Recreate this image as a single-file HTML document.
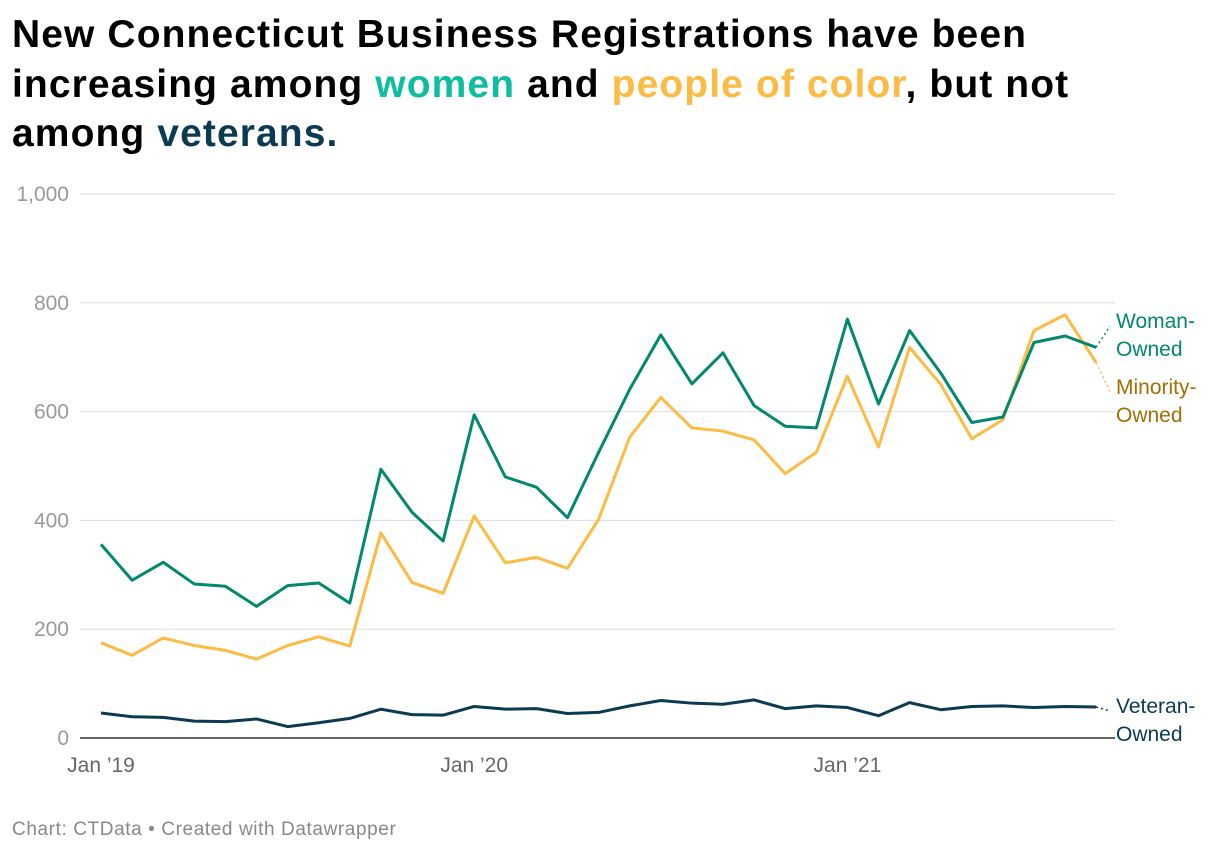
<!DOCTYPE html>
<html><head><meta charset="utf-8"><style>
body{margin:0;width:1220px;height:854px;background:#fff;font-family:"Liberation Sans",sans-serif;overflow:hidden;position:relative}
h1{position:absolute;left:12px;top:10px;margin:0;font-size:39px;line-height:49.5px;font-weight:bold;color:#000;width:1210px;white-space:nowrap;letter-spacing:1.1px}
.w{color:#0cbd9f}.p{color:#fdbb44}.v{color:#0b3a53}
#foot{position:absolute;left:12px;top:819px;font-size:19px;color:#888;letter-spacing:0.6px}
</style></head><body>
<h1>New Connecticut Business Registrations have been<br>increasing among <span class="w">women</span> and <span class="p">people of color</span>, but not<br>among <span class="v">veterans.</span></h1>
<svg id="chart" width="1220" height="854" style="position:absolute;left:0;top:0"></svg>
<div id="foot">Chart: CTData • Created with Datawrapper</div>
<script>
const yTicks=[0,200,400,600,800,1000];
const yTickLabels=["0","200","400","600","800","1,000"];
const xTickIdx=[0,12,24];
const xTickLabels=["Jan ’19","Jan ’20","Jan ’21"];
const women=[356,290,323,283,279,242,280,285,248,494,415,362,594,480,461,405,525,641,741,651,708,611,573,570,770,614,749,671,580,590,727,739,718];
const minority=[175,152,184,170,161,145,170,186,169,377,286,266,408,322,332,312,402,553,626,570,564,548,486,525,665,535,718,650,550,585,749,778,690];
const veteran=[46,39,38,31,30,35,21,28,36,53,43,42,58,53,54,45,47,59,69,64,62,70,54,59,56,41,65,52,58,59,56,58,57];
const NS="http://www.w3.org/2000/svg";
const svg=document.getElementById('chart');
const x=i=>101+i*31.1;
const y=v=>738-v*0.544;
function mk(t,a){const e=document.createElementNS(NS,t);for(const k in a)e.setAttribute(k,a[k]);svg.appendChild(e);return e;}
yTicks.forEach((t,i)=>{
  const l=mk('line',{x1:80,x2:1115,y1:y(t),y2:y(t),stroke:t===0?'#333':'#ddd','stroke-width':t===0?1.5:1});
  
  
  const tx=mk('text',{x:69,y:y(t)+7,'font-size':21,fill:'#999','text-anchor':'end','font-family':'Liberation Sans'});
  tx.textContent=yTickLabels[i];
  
  
});
xTickIdx.forEach((d,i)=>{
  const tx=mk('text',{x:x(d),y:772,'font-size':21,fill:'#666','text-anchor':'middle','font-family':'Liberation Sans'});
  tx.textContent=xTickLabels[i];
  
  
});
function series(arr,col,name,lbl,ly,lcol){
  const p=mk('polyline',{points:arr.map((v,i)=>x(i)+','+y(v)).join(' '),fill:'none',stroke:col,'stroke-width':3,'stroke-linejoin':'round'});
  
  
  const n=arr.length-1;
  const d=mk('line',{x1:x(n),y1:y(arr[n]),x2:1110,y2:ly-16,stroke:col,'stroke-width':1.5,'stroke-dasharray':'2,3'});
  
  
  const t=mk('text',{x:1116,y:ly,'font-size':21,fill:lcol,'font-family':'Liberation Sans'});
  t.innerHTML='<tspan x="1116" dy="-14">'+lbl[0]+'</tspan><tspan x="1116" dy="28">'+lbl[1]+'</tspan>';
  
  
}
series(veteran,'#0b3a53','veteran',['Veteran-','Owned'],727,'#0b3a53');
series(minority,'#fdbb44','minority',['Minority-','Owned'],408,'#a86d00');
series(women,'#00896d','women',['Woman-','Owned'],342,'#00896d');
</script>
</body></html>
